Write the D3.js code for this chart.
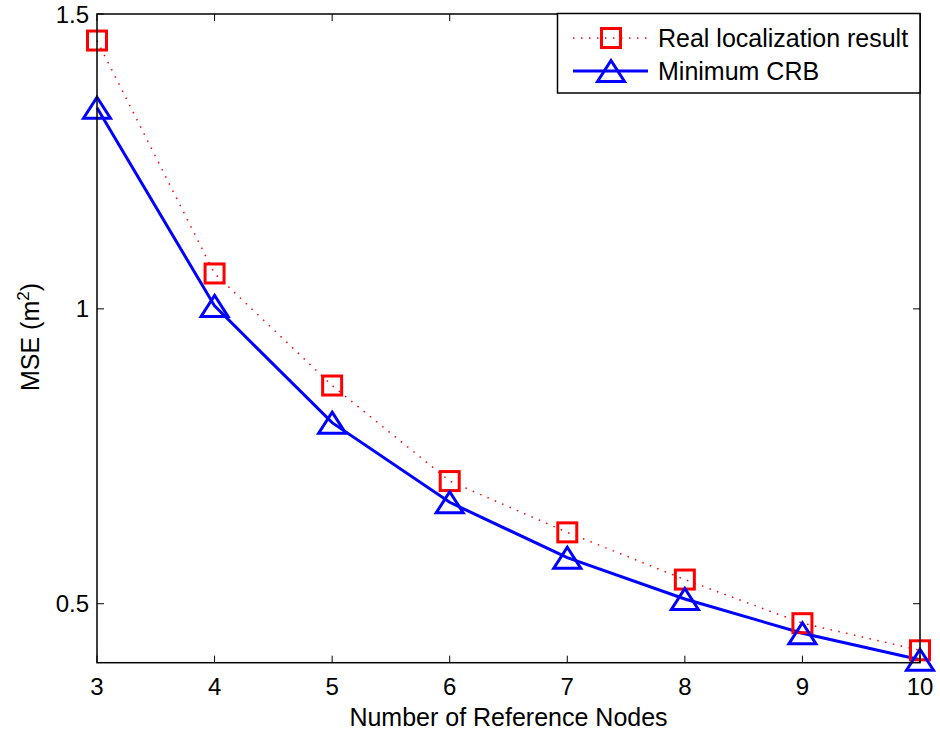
<!DOCTYPE html>
<html>
<head>
<meta charset="utf-8">
<script src="https://cdn.jsdelivr.net/npm/d3@7"></script>
<style>
  body { margin: 0; background: #fff; }
  text { font-family: "Liberation Sans", Arial, sans-serif; fill: #000; }
</style>
</head>
<body>
<div id="chart"></div>
<script>
// data
nodes = [3, 4, 5, 6, 7, 8, 9, 10]
realResult = [1.455, 1.060, 0.870, 0.708, 0.621, 0.541, 0.467, 0.421]
minCRB = [1.341, 1.005, 0.807, 0.672, 0.578, 0.508, 0.450, 0.405]
xTicks = [3, 4, 5, 6, 7, 8, 9, 10]
yTicks = [0.5, 1, 1.5]

width = 940
height = 731
plotL = 97, plotR = 920, plotT = 14, plotB = 662.7
tickLen = 7
tickFont = 24
labelFont = 25

x = d3.scaleLinear().domain([3, 10]).range([plotL, plotR])
y = d3.scaleLinear().domain([0.4, 1.5]).range([plotB, plotT])

svg = d3.select("#chart").append("svg")
  .attr("width", width)
  .attr("height", height)

// ticks on all four sides, pointing inward
ticks = svg.append("g").attr("stroke", "#000").attr("stroke-width", 1)
xTicks.forEach(function(t) {
  ticks.append("line").attr("x1", x(t)).attr("x2", x(t)).attr("y1", plotB).attr("y2", plotB - tickLen)
  ticks.append("line").attr("x1", x(t)).attr("x2", x(t)).attr("y1", plotT).attr("y2", plotT + tickLen)
})
yTicks.forEach(function(t) {
  ticks.append("line").attr("x1", plotL).attr("x2", plotL + tickLen).attr("y1", y(t)).attr("y2", y(t))
  ticks.append("line").attr("x1", plotR).attr("x2", plotR - tickLen).attr("y1", y(t)).attr("y2", y(t))
})

svg.selectAll(".xlab").data(xTicks).enter().append("text")
  .attr("x", function(d) { return x(d) })
  .attr("y", 695)
  .attr("text-anchor", "middle")
  .attr("font-size", tickFont)
  .text(function(d) { return d })

svg.selectAll(".ylab").data(yTicks).enter().append("text")
  .attr("x", plotL - 8)
  .attr("y", function(d) { return y(d) + 8.5 })
  .attr("text-anchor", "end")
  .attr("font-size", tickFont)
  .text(function(d) { return d })

svg.append("text")
  .attr("x", (plotL + plotR) / 2)
  .attr("y", 726)
  .attr("text-anchor", "middle")
  .attr("font-size", labelFont)
  .text("Number of Reference Nodes")

ylabel = svg.append("text")
  .attr("transform", "translate(39," + 337 + ") rotate(-90)")
  .attr("text-anchor", "middle")
  .attr("font-size", labelFont)
ylabel.append("tspan").text("MSE (m")
ylabel.append("tspan").attr("font-size", 17).attr("dy", -10).text("2")
ylabel.append("tspan").attr("dy", 10).text(")")

// series
lineGen = d3.line()
  .x(function(d, i) { return x(nodes[i]) })
  .y(function(d) { return y(d) })

svg.append("path")
  .attr("d", lineGen(realResult))
  .attr("fill", "none")
  .attr("stroke", "#ff0000")
  .attr("stroke-width", 1.5)
  .attr("stroke-dasharray", "1.5,6.5")

svg.append("path")
  .attr("d", lineGen(minCRB))
  .attr("fill", "none")
  .attr("stroke", "#0000ff")
  .attr("stroke-width", 3)

square = function(g, cx, cy) {
  g.append("rect")
    .attr("x", cx - 9.5).attr("y", cy - 9.5)
    .attr("width", 19).attr("height", 19)
    .attr("fill", "none").attr("stroke", "#ff0000").attr("stroke-width", 3)
}
triangle = function(g, cx, cy) {
  g.append("path")
    .attr("d", "M" + cx + "," + (cy - 10.5) + "L" + (cx + 13.5) + "," + (cy + 10.5) + "L" + (cx - 13.5) + "," + (cy + 10.5) + "Z")
    .attr("fill", "none").attr("stroke", "#0000ff").attr("stroke-width", 3)
}

marks = svg.append("g")
realResult.forEach(function(d, i) { square(marks, x(nodes[i]), y(d)) })
minCRB.forEach(function(d, i) { triangle(marks, x(nodes[i]), y(d)) })

// axes box
svg.append("rect")
  .attr("x", plotL).attr("y", plotT)
  .attr("width", plotR - plotL).attr("height", plotB - plotT)
  .attr("fill", "none").attr("stroke", "#000").attr("stroke-width", 1.5)

// legend
legend = svg.append("g")
legend.append("rect")
  .attr("x", 557.5).attr("y", 13.5)
  .attr("width", 920 - 557.5).attr("height", 93 - 13.5)
  .attr("fill", "#fff").attr("stroke", "#000").attr("stroke-width", 1.5)
legend.append("line")
  .attr("x1", 573).attr("x2", 648).attr("y1", 38).attr("y2", 38)
  .attr("stroke", "#ff0000").attr("stroke-width", 1.5).attr("stroke-dasharray", "1.5,6.5")
square(legend, 611, 38)
legend.append("text").attr("x", 658).attr("y", 47).attr("font-size", labelFont).text("Real localization result")
legend.append("line")
  .attr("x1", 573).attr("x2", 648).attr("y1", 71).attr("y2", 71)
  .attr("stroke", "#0000ff").attr("stroke-width", 3)
triangle(legend, 611, 71)
legend.append("text").attr("x", 658).attr("y", 80).attr("font-size", labelFont).text("Minimum CRB")
</script>
</body>
</html>
